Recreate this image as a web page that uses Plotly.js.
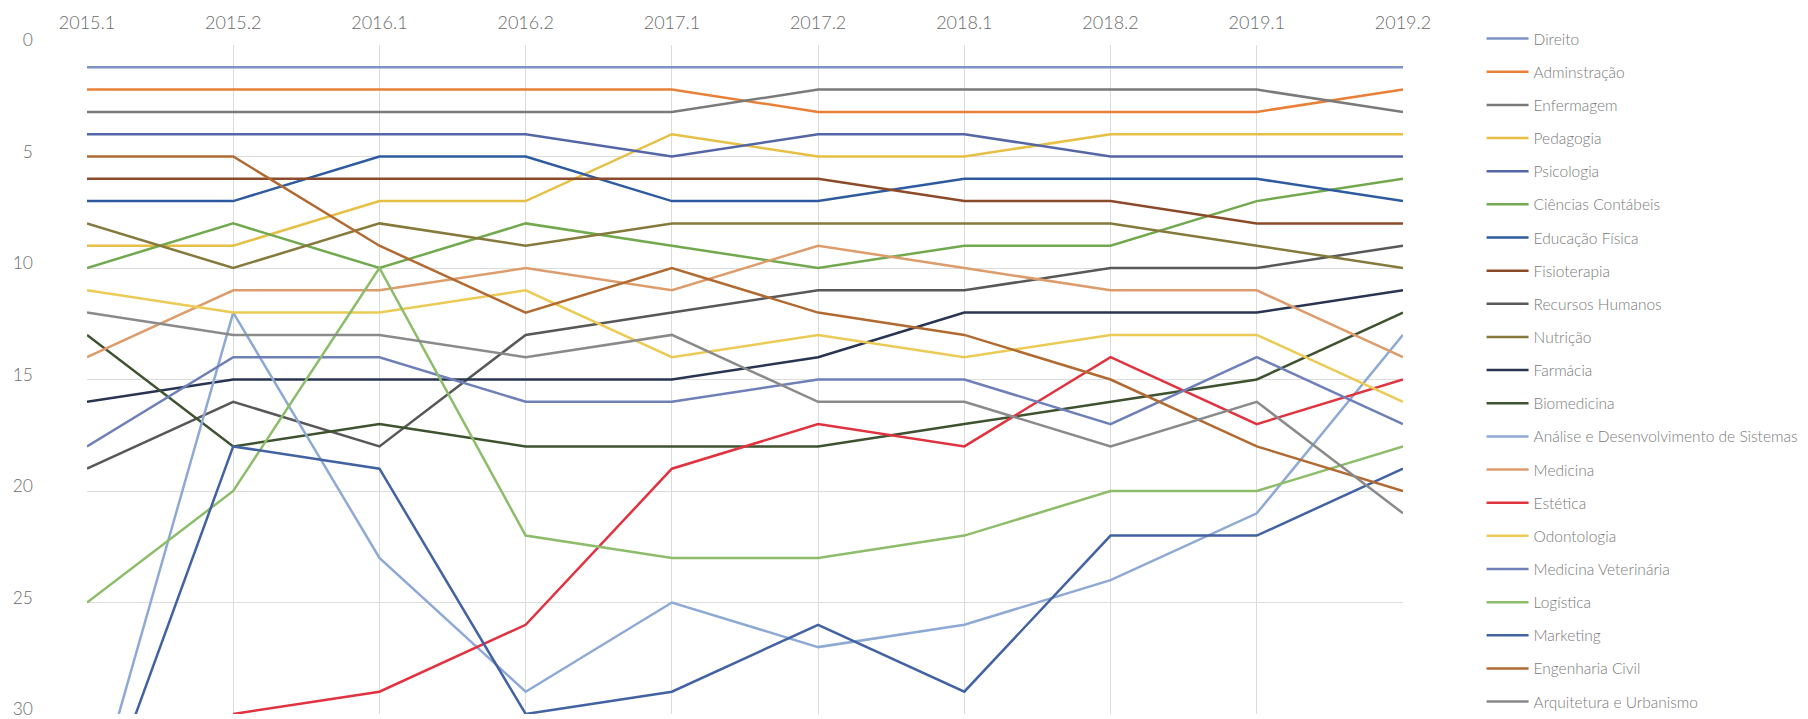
<!DOCTYPE html>
<html>
<head>
<meta charset="utf-8">
<script src="https://cdn.plot.ly/plotly-3.0.1.min.js"></script>
<style>
html,body{margin:0;padding:0;background:#fff;}
#chart{width:1808px;height:719px;}
</style>
</head>
<body>
<div id="chart"></div>
<script>
const semesters = ["2015.1","2015.2","2016.1","2016.2","2017.1","2017.2","2018.1","2018.2","2019.1","2019.2"];

const direito        = [1,1,1,1,1,1,1,1,1,1];
const adminstracao   = [2,2,2,2,2,3,3,3,3,2];
const enfermagem     = [3,3,3,3,3,2,2,2,2,3];
const pedagogia      = [9,9,7,7,4,5,5,4,4,4];
const psicologia     = [4,4,4,4,5,4,4,5,5,5];
const cienciasCont   = [10,8,10,8,9,10,9,9,7,6];
const educacaoFisica = [7,7,5,5,7,7,6,6,6,7];
const fisioterapia   = [6,6,6,6,6,6,7,7,8,8];
const recursosHum    = [19,16,18,13,12,11,11,10,10,9];
const nutricao       = [8,10,8,9,8,8,8,8,9,10];
const farmacia       = [16,15,15,15,15,14,12,12,12,11];
const biomedicina    = [13,18,17,18,18,18,17,16,15,12];
const analiseDS      = [35,12,23,29,25,27,26,24,21,13];
const medicina       = [14,11,11,10,11,9,10,11,11,14];
const estetica       = [null,30,29,26,19,17,18,14,17,15];
const odontologia    = [11,12,12,11,14,13,14,13,13,16];
const medVet         = [18,14,14,16,16,15,15,17,14,17];
const logistica      = [25,20,10,22,23,23,22,20,20,18];
const marketing      = [36,18,19,30,29,26,29,22,22,19];
const engCivil       = [5,5,9,12,10,12,13,15,18,20];
const arquitetura    = [12,13,13,14,13,16,16,18,16,21];

const seriesNames = ["Direito","Adminstração","Enfermagem","Pedagogia","Psicologia","Ciências Contábeis","Educação Física","Fisioterapia","Recursos Humanos","Nutrição","Farmácia","Biomedicina","Análise e Desenvolvimento de Sistemas","Medicina","Estética","Odontologia","Medicina Veterinária","Logística","Marketing","Engenharia Civil","Arquitetura e Urbanismo"];
const seriesValues = [direito,adminstracao,enfermagem,pedagogia,psicologia,cienciasCont,educacaoFisica,fisioterapia,recursosHum,nutricao,farmacia,biomedicina,analiseDS,medicina,estetica,odontologia,medVet,logistica,marketing,engCivil,arquitetura];
const seriesColors = ["#7d92c6","#e8803a","#7a7a7a","#e6bf45","#5566a6","#72a94f","#2e5b9f","#8b4a29","#585858","#857a3c","#283450","#3e5230","#8eaad4","#dc9c6c","#e0323f","#ebcb55","#6f7fb8","#8dbd6a","#4262a2","#b06a32","#8a8a8a"];

const traces = seriesNames.map((n,i)=>({
  type:"scatter", mode:"lines", name:n, x:semesters, y:seriesValues[i],
  line:{color:seriesColors[i], width:2.5}, connectgaps:false,
  legendgroup:"g"+i
}));

const layout = {
  width:1808, height:719,
  margin:{l:87,r:397,t:45,b:5},
  paper_bgcolor:"#fff", plot_bgcolor:"#fff",
  font:{family:"Lato, 'Open Sans', sans-serif", color:"#6b6b6b", size:16},
  showlegend:true,
  legend:{x:1.0597, xanchor:"left", y:1.027, yanchor:"top", yref:"paper",
    font:{size:15.5, color:"#7a7a7a", family:"Lato, 'Open Sans', sans-serif", weight:300},
    tracegroupgap:10, itemwidth:42, bgcolor:"rgba(0,0,0,0)", maxheight:1},
  xaxis:{type:"category", side:"top", range:[0,9], showgrid:true, gridcolor:"#dcdcdc", gridwidth:1,
    showline:false, zeroline:false, ticks:"", tickfont:{size:18, color:"#6b6b6b", weight:300}, ticklabelstandoff:11},
  yaxis:{range:[30,0], autorange:false, dtick:5, tick0:0, showgrid:true, gridcolor:"#dcdcdc", gridwidth:1,
    showline:false, zeroline:false, ticks:"", tickfont:{size:17.5, color:"#6b6b6b", weight:300},
    ticklabelstandoff:53, ticklabeloverflow:"allow", ticklabelshift:5}
};

Plotly.newPlot("chart", traces, layout, {displayModeBar:false, staticPlot:true});
</script>
</body>
</html>
